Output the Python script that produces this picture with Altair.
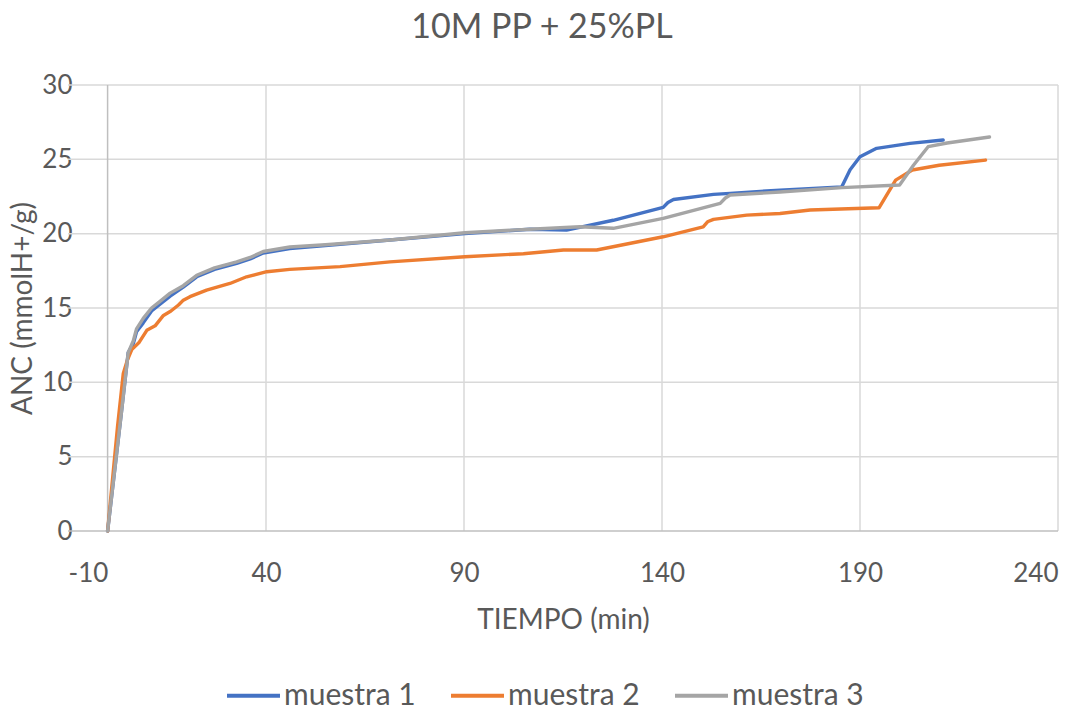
import altair as alt
import pandas as pd

# ANC titration curves, time in minutes vs ANC (mmolH+/g)
t1 = [0, 3.5, 5.2, 6.5, 7.3, 9, 11.1, 13, 15.8, 19.1, 22.5, 27, 32.6, 36, 39.3, 46, 55,
      71.3, 90.2, 106.7, 115.9, 127.7, 140.3, 141.5, 142.9, 153, 157.2, 169.8, 185.4,
      187.5, 190, 194.2, 202.6, 211]
v1 = [0, 8, 12.0, 12.6, 13.4, 14.0, 14.8, 15.2, 15.8, 16.4, 17.1, 17.6, 18.0, 18.3, 18.7,
      19.0, 19.2, 19.57, 20.0, 20.3, 20.24, 20.9, 21.77, 22.1, 22.3, 22.64, 22.71, 22.93,
      23.15, 24.3, 25.17, 25.74, 26.07, 26.3]

t2 = [0, 2.5, 3.96, 5.0, 6.1, 8, 9.9, 12, 14.1, 16, 17.9, 19, 20.8, 25, 30.9, 35.1, 40.2,
      46, 58.7, 71.3, 90.2, 105, 115.1, 123.5, 140.3, 150.4, 151.5, 153, 161.4, 169.8,
      177.4, 194.8, 199, 203.2, 210, 221.7]
v2 = [0, 7, 10.6, 11.5, 12.2, 12.7, 13.5, 13.8, 14.5, 14.8, 15.2, 15.5, 15.76, 16.2, 16.65,
      17.1, 17.44, 17.6, 17.78, 18.1, 18.45, 18.65, 18.9, 18.9, 19.79, 20.46, 20.8, 20.96,
      21.25, 21.36, 21.59, 21.74, 23.6, 24.28, 24.6, 24.95]

t3 = [0, 3.5, 5.2, 6.5, 7.3, 9, 11.1, 13, 15.8, 19.1, 22.5, 27, 32.6, 36, 39.3, 46, 55,
      71.3, 90.2, 106.7, 119.3, 127.7, 140.3, 154.7, 156, 157.2, 169.8, 185.4, 200, 203.5,
      207.2, 212, 222.7]
v3 = [0, 8, 12.0, 12.8, 13.6, 14.3, 15.0, 15.4, 16.0, 16.5, 17.2, 17.7, 18.1, 18.4, 18.8,
      19.1, 19.25, 19.57, 20.06, 20.3, 20.47, 20.36, 21.03, 22.04, 22.4, 22.6, 22.8, 23.1,
      23.27, 24.6, 25.85, 26.1, 26.5]

series_names = ["muestra 1", "muestra 2", "muestra 3"]
series_colors = ["#4472C4", "#ED7D31", "#A5A5A5"]

x_ticks = [-10, 40, 90, 140, 190, 240]
y_ticks = [0, 5, 10, 15, 20, 25, 30]
x_grid = [40, 90, 140, 190, 240]

rows = []
for name, ts, vs in zip(series_names, [t1, t2, t3], [v1, v2, v3]):
    for i, (t, v) in enumerate(zip(ts, vs)):
        rows.append({"serie": name, "tiempo": t, "anc": v, "orden": i})
df = pd.DataFrame(rows)

FONT = "Lato"
TXT = "#595959"

x_scale = alt.Scale(domain=[-10, 240], nice=False, zero=False)
y_scale = alt.Scale(domain=[0, 30], nice=False)

vgrid = alt.Chart(pd.DataFrame({"g": x_grid})).mark_rule(
    color="#D9D9D9", strokeWidth=1.5
).encode(x=alt.X("g:Q", scale=x_scale))

hgrid = alt.Chart(pd.DataFrame({"g": y_ticks[1:]})).mark_rule(
    color="#D9D9D9", strokeWidth=1.5
).encode(y=alt.Y("g:Q", scale=y_scale))

yaxis_line = alt.Chart(pd.DataFrame({"g": [0]})).mark_rule(
    color="#BFBFBF", strokeWidth=1.5
).encode(x=alt.X("g:Q", scale=x_scale))

xaxis_line = alt.Chart(pd.DataFrame({"g": [0]})).mark_rule(
    color="#BFBFBF", strokeWidth=1.5
).encode(y=alt.Y("g:Q", scale=y_scale))

lines = alt.Chart(df).mark_line(strokeWidth=3.4, strokeCap="round", strokeJoin="round").encode(
    x=alt.X("tiempo:Q", scale=x_scale,
            axis=alt.Axis(values=x_ticks, title="TIEMPO (min)", grid=False, ticks=False,
                          domain=False, labelPadding=29, titlePadding=20,
                          labelExpr="'' + datum.value", titleFontSize=28)),
    y=alt.Y("anc:Q", scale=y_scale,
            axis=alt.Axis(values=y_ticks, title="ANC (mmolH+/g)", grid=False, ticks=False,
                          domain=False, labelPadding=-4, titlePadding=4,
                          titleFontSize=28)),
    color=alt.Color("serie:N",
                    scale=alt.Scale(domain=series_names, range=series_colors),
                    legend=alt.Legend(orient="none", direction="horizontal", title=None,
                                      legendX=157, legendY=582,
                                      symbolType="stroke", symbolSize=2809,
                                      symbolStrokeWidth=4, labelOffset=2,
                                      columnPadding=27, labelFontSize=30,
                                      labelColor=TXT, labelFont=FONT)),
    order="orden:Q",
)

chart = alt.layer(vgrid, hgrid, yaxis_line, xaxis_line, lines).properties(
    width=990, height=446,
    padding={"left": 68, "top": 85, "right": 31, "bottom": 180},
    autosize=alt.AutoSizeParams(type="none"),
    title=alt.TitleParams("10M PP + 25%PL", fontSize=34, font=FONT, color=TXT,
                          fontWeight="normal", anchor="middle", offset=27, dx=-21),
).configure_axis(
    labelFont=FONT, labelFontSize=26, labelColor=TXT,
    titleFont=FONT, titleColor=TXT, titleFontWeight="normal",
).configure_view(stroke=None)

chart.save("out.html", embed_options={"renderer": "svg", "actions": False})
